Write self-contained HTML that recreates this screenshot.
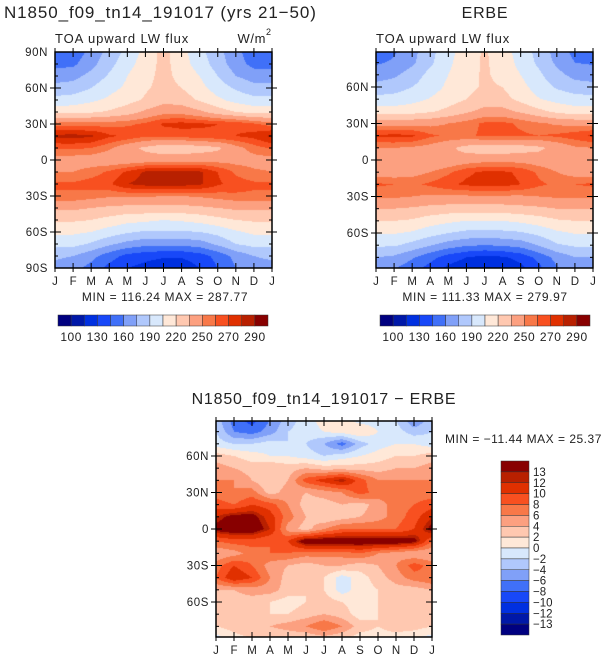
<!DOCTYPE html>
<html><head><meta charset="utf-8">
<style>
body{margin:0;background:#fff;width:612px;height:664px;overflow:hidden;font-family:"Liberation Sans",sans-serif;}
svg{position:absolute;left:0;top:0}
canvas{position:absolute}
</style></head>
<body>
<canvas id="c1" width="217" height="216" style="left:55px;top:52px"></canvas>
<canvas id="c2" width="217" height="216" style="left:376px;top:52px"></canvas>
<canvas id="c3" width="216" height="216" style="left:216px;top:421px"></canvas>
<svg id="s" width="612" height="664"></svg>
<script>
const months=["J","F","M","A","M","J","J","A","S","O","N","D","J"];
const lats=[90,80,70,60,50,40,30,20,10,0,-10,-20,-30,-40,-50,-60,-70,-80,-90];
const fluxLevels=[100,115,130,145,160,175,190,205,220,235,250,260,270,280,290];
const diffLevels=[-13,-12,-10,-8,-6,-4,-2,0,2,4,6,8,10,12,13];
const fluxLabels=["100","130","160","190","220","250","270","290"];
const diffLabels=["13","12","10","8","6","4","2","0","\u22122","\u22124","\u22126","\u22128","\u221210","\u221212","\u221213"];
const colors=["#000080","#0018a8","#0030e0","#1848f8","#4070f8","#80a0f8","#b0c8fc","#d8e8fc","#ffe8d8","#ffc8b0","#fca080","#f87848","#f85020","#e03000","#b82000","#880000"];
const model=[
[150,150,165,180,195,210,225,210,195,180,165,150,150],
[155,157,170,185,200,212,225,212,198,183,167,155,155],
[168,170,180,192,205,215,225,215,205,190,175,168,168],
[180,182,190,200,208,218,225,220,210,198,188,180,180],
[195,197,202,208,215,222,230,228,218,208,200,195,195],
[215,215,218,222,228,238,245,245,238,228,220,215,215],
[255,255,255,256,258,262,272,274,272,270,268,262,255],
[283,284,282,272,268,262,262,264,266,268,270,274,283],
[262,262,260,252,240,232,225,225,228,232,245,255,262],
[245,243,242,240,240,242,245,245,245,245,245,245,245],
[250,250,255,262,272,282,283,283,282,270,258,252,250],
[262,262,265,268,280,284,285,285,282,272,265,262,262],
[258,258,255,252,252,252,250,250,252,255,258,258,258],
[238,238,235,232,230,230,230,230,232,235,238,238,238],
[222,222,220,215,210,208,205,207,210,215,220,222,222],
[208,208,205,198,192,188,188,188,190,195,203,208,208],
[195,195,188,178,170,165,165,165,168,178,190,195,195],
[178,175,165,152,140,135,132,132,138,150,165,175,178],
[170,165,155,140,130,125,120,120,130,145,160,168,170]];
const erbe=[
[150,158,170,185,200,212,222,212,198,185,168,155,150],
[158,162,172,187,202,214,222,214,200,187,172,160,158],
[168,172,182,195,205,215,222,216,205,193,180,170,168],
[180,183,190,198,208,216,222,220,210,198,188,182,180],
[195,196,200,206,213,220,226,225,216,206,200,196,195],
[212,212,214,218,224,232,240,240,232,224,216,212,212],
[245,245,245,246,250,255,262,263,258,252,248,246,245],
[272,273,272,262,258,258,262,262,262,260,262,266,272],
[250,250,248,245,238,230,225,225,228,232,240,248,250],
[238,238,238,236,238,242,245,245,245,242,240,238,238],
[242,242,245,250,258,268,272,272,268,258,250,244,242],
[262,260,258,262,268,272,274,274,270,262,258,260,262],
[252,252,250,248,248,248,248,248,248,250,252,252,252],
[235,235,233,230,228,228,228,228,230,232,235,235,235],
[220,220,218,212,208,205,205,205,208,212,218,220,220],
[206,206,203,196,190,186,185,186,188,194,202,206,206],
[192,192,185,176,168,162,160,162,166,176,188,192,192],
[175,172,162,150,138,130,125,128,135,150,165,175,175],
[165,160,150,138,125,118,112,115,125,140,158,165,165]];
const diff=[
[-3,-7,-9,-6,-3,-1,1,1,-1,-1,-2,-6,-3],
[-2,-6,-7,-5,-2,-1,0,1,2,0,-1,-3,-2],
[-1,-2,-2,-1,-2,-2,-4,-7,-3,-1,0,0,-1],
[3,2,1,0,0,-1,-2,-1,0,1,2,2,3],
[5,4,3,4,3,4,3,3,3,3,4,4,5],
[6,6,4,2,4,9,11,13,9,6,6,6,6],
[7,6,7,3,5,4,5,6,9,7,7,7,7],
[9,8,10,9,6,3,3,4,3,5,7,8,9],
[12,14,14,11,7,4,2,3,4,5,7,9,12],
[14,15,15,12,5,3,6,8,8,8,8,10,14],
[8,9,9,8,10,15,15,15,15,15,15,14,8],
[4,5,7,8,8,7,7,7,8,6,5,4,4],
[7,10,8,5,4,3,4,4,3,4,6,9,7],
[8,12,10,6,3,2,2,-1,1,3,5,7,8],
[4,4,5,5,3,2,2,-1,1,2,3,3,4],
[2,3,3,2,1,2,3,2,1,2,2,2,2],
[3,4,3,2,2,3,4,3,1,2,3,3,3],
[2,3,4,4,5,6,8,6,3,2,3,3,2],
[-1,1,2,2,2,2,3,2,1,1,1,0,-1]];

function levelIndex(v,lv){let i=0;while(i<lv.length&&v>=lv[i])i++;return i;}
function sample(g,m,lat){
  const r=(90-lat)/10, r0=Math.max(0,Math.min(17,Math.floor(r))), fr=Math.max(0,Math.min(1,r-r0));
  const c0=Math.max(0,Math.min(11,Math.floor(m))), fc=Math.max(0,Math.min(1,m-c0));
  const a=g[r0][c0]*(1-fc)+g[r0][c0+1]*fc, b=g[r0+1][c0]*(1-fc)+g[r0+1][c0+1]*fc;
  return a*(1-fr)+b*fr;
}
function drawMap(id,g,lv,latTop){
  const cv=document.getElementById(id),ctx=cv.getContext('2d'),W=cv.width,H=cv.height;
  for(let y=0;y<H;y++){const lat=latTop-(y+0.5)/H*2*latTop;
    for(let x=0;x<W;x++){const m=(x+0.5)/W*12;
      ctx.fillStyle=colors[levelIndex(sample(g,m,lat),lv)];ctx.fillRect(x,y,1,1);}}
}
drawMap('c1',model,fluxLevels,90);
drawMap('c2',erbe,fluxLevels,88.75);
drawMap('c3',diff,diffLevels,88.75);

const S=document.getElementById('s');const NS="http://www.w3.org/2000/svg";
function el(t,a,txt){const e=document.createElementNS(NS,t);for(const k in a)e.setAttribute(k,a[k]);if(txt!==undefined)e.textContent=txt;S.appendChild(e);return e;}
function frame(x0,y0,w,h,latTop,name,latLabelsOn){
  const f=el('rect',{x:x0,y:y0,width:w,height:h,fill:'none',stroke:'#000','stroke-width':1.5});
  
  for(let i=0;i<=12;i++){const x=x0+i*w/12;
    el('line',{x1:x,y1:y0+h-5,x2:x,y2:y0+h+4,stroke:'#000'});
    el('line',{x1:x,y1:y0-4,x2:x,y2:y0+5,stroke:'#000'});
    const t=el('text',{x:x,y:y0+h+17,'font-size':11.5,'text-anchor':'middle',fill:'#222'},months[i]);
    }
  const yc=y0+h/2, sc=(h/2)/latTop;
  for(let lat=-80;lat<=80;lat+=10){if(Math.abs(lat)>latTop)continue;const y=yc-lat*sc;const maj=lat%30===0;
    el('line',{x1:x0-(maj?5:0),y1:y,x2:x0+(maj?6:3),y2:y,stroke:'#000'});
    el('line',{x1:x0+w-(maj?6:3),y1:y,x2:x0+w+(maj?5:0),y2:y,stroke:'#000'});}
  latLabelsOn.forEach(lat=>{const y=yc-lat*sc;
    const s=lat===0?"0":(Math.abs(lat)+(lat>0?"N":"S"));
    const t=el('text',{x:x0-7,y:y+4,'font-size':11.5,'text-anchor':'end',fill:'#222','letter-spacing':0.6},s);
    });
}
frame(55,52,217,216,90,'model',[90,60,30,0,-30,-60,-90]);
frame(376,52,217,216,88.75,'erbe',[60,30,0,-30,-60]);
frame(216,421,216,216,88.75,'diff',[60,30,0,-30,-60]);

function hbar(x0,y0,name){
  for(let i=0;i<16;i++){const r=el('rect',{x:x0+i*210/16,y:y0,width:210/16,height:11,fill:colors[i],stroke:'#333','stroke-width':0.5});
    }
  fluxLabels.forEach((l,j)=>{const t=el('text',{x:x0+(2*j+1)*210/16,y:y0+26,'font-size':12,'text-anchor':'middle',fill:'#222','letter-spacing':0.5},l);
    });
}
hbar(58,315,'model-colorbar');hbar(380,315,'erbe-colorbar');
for(let i=0;i<16;i++){const h=174/16;const r=el('rect',{x:501,y:461+i*h,width:28,height:h,fill:colors[15-i],stroke:'#333','stroke-width':0.5});
  }
diffLabels.forEach((l,j)=>{const t=el('text',{x:533,y:461+(j+1)*174/16+4,'font-size':11.5,fill:'#222'},l);
  });

function txt(x,y,s,size,anchor,name,ls){const t=el('text',{x:x,y:y,'font-size':size,'text-anchor':anchor,fill:'#222','letter-spacing':ls||0},s);
  return t;}
txt(4,18,"N1850_f09_tn14_191017 (yrs 21\u221250)",17,'start','model-title',0.9);
txt(485,18,"ERBE",16,'middle','erbe-title',0.8);
txt(55,43,"TOA upward LW flux",13,'start','model-subtitle',0.9);
txt(376,43,"TOA upward LW flux",13,'start','erbe-subtitle',0.9);
txt(266,43,"W/m",13,'end','units-label',0.6);
txt(165,301,"MIN = 116.24  MAX = 287.77",12,'middle','model-min-max',0.6);
txt(485,301,"MIN = 111.33  MAX = 279.97",12,'middle','erbe-min-max',0.6);
txt(324,404,"N1850_f09_tn14_191017 \u2212 ERBE",16,'middle','diff-title',0.8);
txt(445,443,"MIN = \u221211.44  MAX =  25.37",12,'start','diff-min-max',0.5);
</script>
<div style="position:absolute;left:266px;top:27px;font-size:9px;color:#222">2</div>
</body></html>
